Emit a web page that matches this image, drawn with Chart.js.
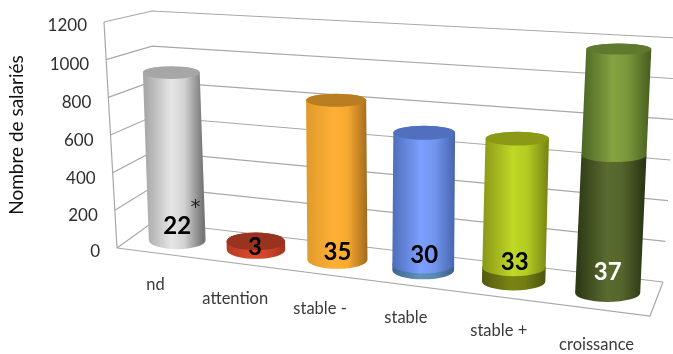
<!DOCTYPE html>
<html>
<head>
<meta charset="utf-8">
<title>Nombre de salariés</title>
<script src="https://cdn.jsdelivr.net/npm/chart.js@4"></script>
<style>
    html, body { margin: 0; padding: 0; background: #fff; }
    canvas { display: block; }
</style>
</head>
<body>
<canvas id="chart" width="673" height="354"></canvas>
<script>
const categories = ['nd', 'attention', 'stable -', 'stable', 'stable +', 'croissance'];
const lowerValues = [0, 0, 0, 30, 70, 670];
const upperValues = [910, 45, 830, 670, 640, 515];
const effectifs = [22, 3, 35, 30, 33, 37];
const yTicks = [0, 200, 400, 600, 800, 1000, 1200];
const yTitle = 'Nombre de salariés';

// side gradient stops + cap colour for each cylinder
const upperColors = [
    { stops: ['#a9a9a9', '#e6e6e6', '#d2d2d2', '#777777'], cap: '#a6a6a6' },
    { stops: ['#b53a22', '#dd4a2c', '#d2432a', '#a5321e'], cap: '#98331f' },
    { stops: ['#e09a2c', '#ffb035', '#f8a930', '#a56c1e'], cap: '#b97d22' },
    { stops: ['#4f6fba', '#7c9eff', '#7296ee', '#4766b0'], cap: '#5070bf' },
    { stops: ['#8b9a18', '#c0d826', '#b4cb22', '#7a8814'], cap: '#8a9a16' },
    { stops: ['#4f6a25', '#86a342', '#7a963a', '#4a6322'], cap: '#5f7a2e' }
];
const lowerColors = [null, null, null,
    { stops: ['#3c6694', '#5f92bb', '#588ab2', '#38608c'] },
    { stops: ['#525a0e', '#7a8414', '#727c12', '#4d550d'] },
    { stops: ['#2f3b17', '#5b6c30', '#54642b', '#2c3816'] }
];

// box corners on screen: [floor, top of the axis]
const box = {
    fl: [[117, 248], [104, 22]],
    bl: [[153, 222], [152, 11]],
    fr: [[650, 316], [663, 60]],
    br: [[663, 282], [678, 38]]
};

function mix(a, b, t) {
    return [a[0] + (b[0] - a[0]) * t, a[1] + (b[1] - a[1]) * t];
}

// u along the categories, h along the values, d into the depth
function project(u, h, d) {
    const left = mix(mix(box.fl[0], box.bl[0], d), mix(box.fl[1], box.bl[1], d), h);
    const right = mix(mix(box.fr[0], box.br[0], d), mix(box.fr[1], box.br[1], d), h);
    return mix(left, right, u);
}

// the columns bunch up a little towards the far side
function warp(u) {
    return u - 0.031 * Math.sin(Math.PI * (u - 0.06) / 0.96);
}

function columnPoint(u, h) {
    const p = project(warp(u), h, 0.5);
    p[0] -= 3 * h * (Math.sin(Math.PI * u) + Math.pow(1 - u, 6));
    return p;
}

function strokeLine(ctx, pts) {
    ctx.beginPath();
    pts.forEach((p, i) => i ? ctx.lineTo(p[0], p[1]) : ctx.moveTo(p[0], p[1]));
    ctx.stroke();
}

function drawCylinder(ctx, u, h0, h1, rx, colors, withCap) {
    const a = columnPoint(u, h0);
    const b = columnPoint(u, h1);
    const rya = 9 - 3.5 * h0;
    const ryb = 9 - 3.5 * h1;
    const midX = (a[0] + b[0]) / 2;

    const grad = ctx.createLinearGradient(midX - rx, 0, midX + rx, 0);
    colors.stops.forEach((c, i) => grad.addColorStop([0, 0.45, 0.68, 1][i], c));

    ctx.beginPath();
    ctx.moveTo(b[0] - rx, b[1]);
    ctx.lineTo(a[0] - rx, a[1]);
    ctx.ellipse(a[0], a[1], rx, rya, 0, Math.PI, 0, true);
    ctx.lineTo(b[0] + rx, b[1]);
    ctx.ellipse(b[0], b[1], rx, ryb, 0, 0, Math.PI, true);
    ctx.closePath();
    ctx.fillStyle = grad;
    ctx.fill();

    if (withCap) {
        ctx.beginPath();
        ctx.ellipse(b[0], b[1], rx, ryb, 0, 0, Math.PI * 2);
        ctx.fillStyle = colors.cap;
        ctx.fill();
    }
}

// offsets from the foot of each cylinder for its count, and from the front edge for its name
const countNudge = [[0, -14], [-1, -3], [0, -8], [1, -15], [1, -19], [0, -21]];
const nameNudge = [[-6, 31], [-15, 34], [-19, 32], [-22, 30], [-18, 32], [-9, 34]];

const box3d = {
    id: 'box3d',
    beforeDatasetsDraw(chart) {
        const { ctx, scales: { y } } = chart;
        const area = chart.chartArea;
        ctx.save();
        ctx.strokeStyle = '#a8a8a8';
        ctx.lineWidth = 1.2;
        y.ticks.forEach(t => {
            const h = (area.bottom - y.getPixelForValue(t.value)) / area.height;
            strokeLine(ctx, [project(0, h, 0), project(0, h, 1), project(1, h, 1)]);
        });
        strokeLine(ctx, [box.fl[0], box.fl[1]]);
        strokeLine(ctx, [box.fl[0], box.fr[0], box.br[0]]);
        ctx.restore();
    },
    beforeDatasetDraw() {
        // native flat bars are replaced by the cylinders below
        return false;
    },
    afterDatasetsDraw(chart) {
        const { ctx, scales: { y } } = chart;
        const area = chart.chartArea;
        const lower = chart.getDatasetMeta(0).data;
        const upper = chart.getDatasetMeta(1).data;
        const level = px => (area.bottom - px) / area.height;

        ctx.save();
        categories.forEach((name, i) => {
            const u = (upper[i].x - area.left) / area.width;
            const rx = upper[i].width / 2 * (0.9 + 0.16 * u);
            if (lowerValues[i] > 0) {
                drawCylinder(ctx, u, 0, level(lower[i].y), rx, lowerColors[i], false);
            }
            drawCylinder(ctx, u, level(upper[i].base), level(upper[i].y), rx, upperColors[i], true);

            const foot = columnPoint(u, 0);
            ctx.textAlign = 'center';
            ctx.textBaseline = 'middle';
            ctx.font = 'bold 24px Lato';
            ctx.fillStyle = i === 5 ? '#ffffff' : '#000000';
            ctx.fillText(String(effectifs[i]), foot[0] + countNudge[i][0], foot[1] + countNudge[i][1]);

            const front = project(u, 0, 0);
            ctx.font = '16.5px Lato';
            ctx.fillStyle = '#3a3a3a';
            ctx.fillText(name, front[0] + nameNudge[i][0], front[1] + nameNudge[i][1]);
        });

        const star = project(0.0833, 0, 0.5);
        ctx.font = '20px "DejaVu Sans"';
        ctx.fillStyle = '#222222';
        ctx.fillText('*', star[0] + 17, star[1] - 33);

        // value labels follow the tilted front axis
        ctx.textAlign = 'right';
        ctx.font = '17px Lato';
        ctx.fillStyle = '#2e2e2e';
        y.ticks.forEach(t => {
            const py = y.getPixelForValue(t.value);
            const h = level(py);
            const p = project(0, h, 0);
            ctx.fillText(String(t.value), p[0] - 17, py + 3.5 + 2.5 * Math.sin(Math.PI * h));
        });

        ctx.translate(17, 135);
        ctx.rotate(-Math.PI / 2);
        ctx.textAlign = 'center';
        ctx.font = '19px Lato';
        ctx.fillStyle = '#111111';
        ctx.fillText(yTitle, 0, 0);
        ctx.restore();
    }
};

const chart = new Chart(document.getElementById('chart').getContext('2d'), {
    type: 'bar',
    data: {
        labels: categories,
        datasets: [
            { label: 'bas', data: lowerValues, backgroundColor: '#4d5f28' },
            { label: 'haut', data: upperValues, backgroundColor: '#86a342' }
        ]
    },
    options: {
        responsive: false,
        animation: false,
        layout: { padding: { top: 22, right: 23, bottom: 106, left: 0 } },
        datasets: { bar: { barPercentage: 0.7, categoryPercentage: 1 } },
        scales: {
            x: {
                stacked: true,
                grid: { display: false },
                border: { display: false },
                ticks: { display: false },
                afterFit(scale) { scale.height = 0; }
            },
            y: {
                stacked: true,
                min: 0,
                max: 1200,
                afterBuildTicks(scale) { scale.ticks = yTicks.map(value => ({ value })); },
                grid: { display: false },
                border: { display: false },
                ticks: { display: false },
                afterFit(scale) { scale.width = 117; }
            }
        },
        plugins: {
            legend: { display: false },
            tooltip: { enabled: false }
        }
    },
    plugins: [box3d]
});
</script>
</body>
</html>
